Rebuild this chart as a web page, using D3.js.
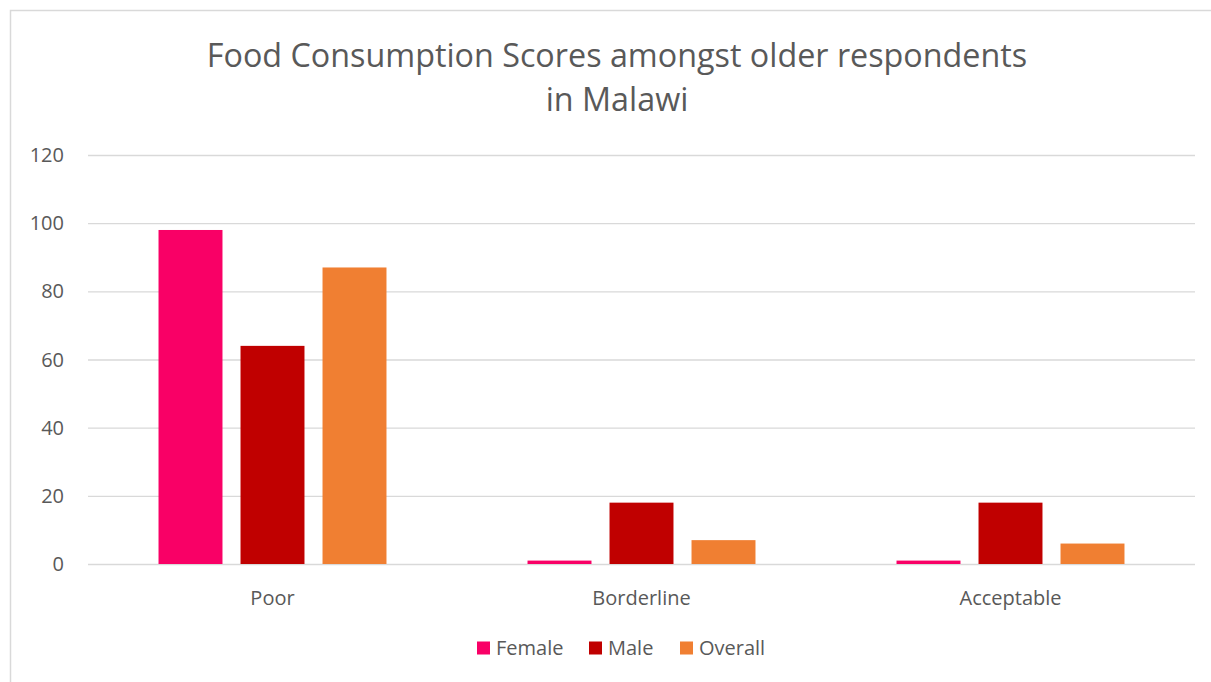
<!DOCTYPE html>
<html>
<head>
<meta charset="utf-8">
<script src="https://cdn.jsdelivr.net/npm/d3@7"></script>
<style>
  body { margin: 0; background: #fff; }
  text { font-family: "Open Sans", sans-serif; fill: #595959; }
</style>
</head>
<body>
<div id="chart"></div>
<script>
const width = 1211
const height = 682

const categories = ["Poor", "Borderline", "Acceptable"]
const seriesNames = ["Female", "Male", "Overall"]
const female = [98, 1, 1]
const male = [64, 18, 18]
const overall = [87, 7, 6]
const yTicks = [0, 20, 40, 60, 80, 100, 120]
const colors = ["#F90066", "#C00000", "#F07F32"]

const values = [female, male, overall]

const svg = d3.select("#chart").append("svg")
    .attr("width", width)
    .attr("height", height)

// chart border (right and bottom are off-canvas)
svg.append("rect")
    .attr("x", 10.5).attr("y", 10.5)
    .attr("width", width + 20).attr("height", height + 20)
    .attr("fill", "none")
    .attr("stroke", "#d9d9d9")
    .attr("stroke-width", 1.5)

const title = svg.append("text")
    .attr("text-anchor", "middle")
    .attr("font-size", 32.3)
title.append("tspan").attr("x", 617).attr("y", 67).text("Food Consumption Scores amongst older respondents")
title.append("tspan").attr("x", 617).attr("y", 111).text("in Malawi")

const x0 = d3.scaleBand()
    .domain(categories)
    .range([88, 1195])
    .paddingInner(0)
    .paddingOuter(0)

const x1 = d3.scaleBand()
    .domain(seriesNames)
    .range([0, x0.bandwidth()])
    .paddingInner(0.22)
    .paddingOuter(0.86)

const y = d3.scaleLinear()
    .domain([0, 120])
    .range([564, 155])

// gridlines
svg.append("g")
    .selectAll("line")
    .data(yTicks)
    .join("line")
    .attr("x1", 88).attr("x2", 1195)
    .attr("y1", d => y(d) + 0.5).attr("y2", d => y(d) + 0.5)
    .attr("stroke", "#d9d9d9")
    .attr("stroke-width", 1.3)

// y tick labels
svg.append("g")
    .selectAll("text")
    .data(yTicks)
    .join("text")
    .attr("x", 64)
    .attr("y", d => y(d))
    .attr("dy", "0.35em")
    .attr("text-anchor", "end")
    .attr("font-size", 20)
    .text(d => d)

// bars
const groups = svg.append("g")
    .selectAll("g")
    .data(categories)
    .join("g")
    .attr("transform", d => `translate(${x0(d)},0)`)

groups.selectAll("rect")
    .data((c, i) => seriesNames.map((s, j) => ({ s: s, v: values[j][i], j: j })))
    .join("rect")
    .attr("x", d => x1(d.s))
    .attr("width", x1.bandwidth())
    .attr("y", d => y(d.v))
    .attr("height", d => y(0) - y(d.v))
    .attr("fill", d => colors[d.j])

// category labels
svg.append("g")
    .selectAll("text")
    .data(categories)
    .join("text")
    .attr("x", d => x0(d) + x0.bandwidth() / 2)
    .attr("y", 598)
    .attr("dy", "0.35em")
    .attr("text-anchor", "middle")
    .attr("font-size", 20)
    .text(d => d)

// legend
const legendX = [477, 589, 680]
const legend = svg.append("g")
    .selectAll("g")
    .data(seriesNames)
    .join("g")
    .attr("transform", (d, i) => `translate(${legendX[i]},648)`)
legend.append("rect")
    .attr("x", 0).attr("y", -6.5)
    .attr("width", 13).attr("height", 13)
    .attr("fill", (d, i) => colors[i])
legend.append("text")
    .attr("x", 19)
    .attr("dy", "0.35em")
    .attr("font-size", 20)
    .text(d => d)
</script>
</body>
</html>
